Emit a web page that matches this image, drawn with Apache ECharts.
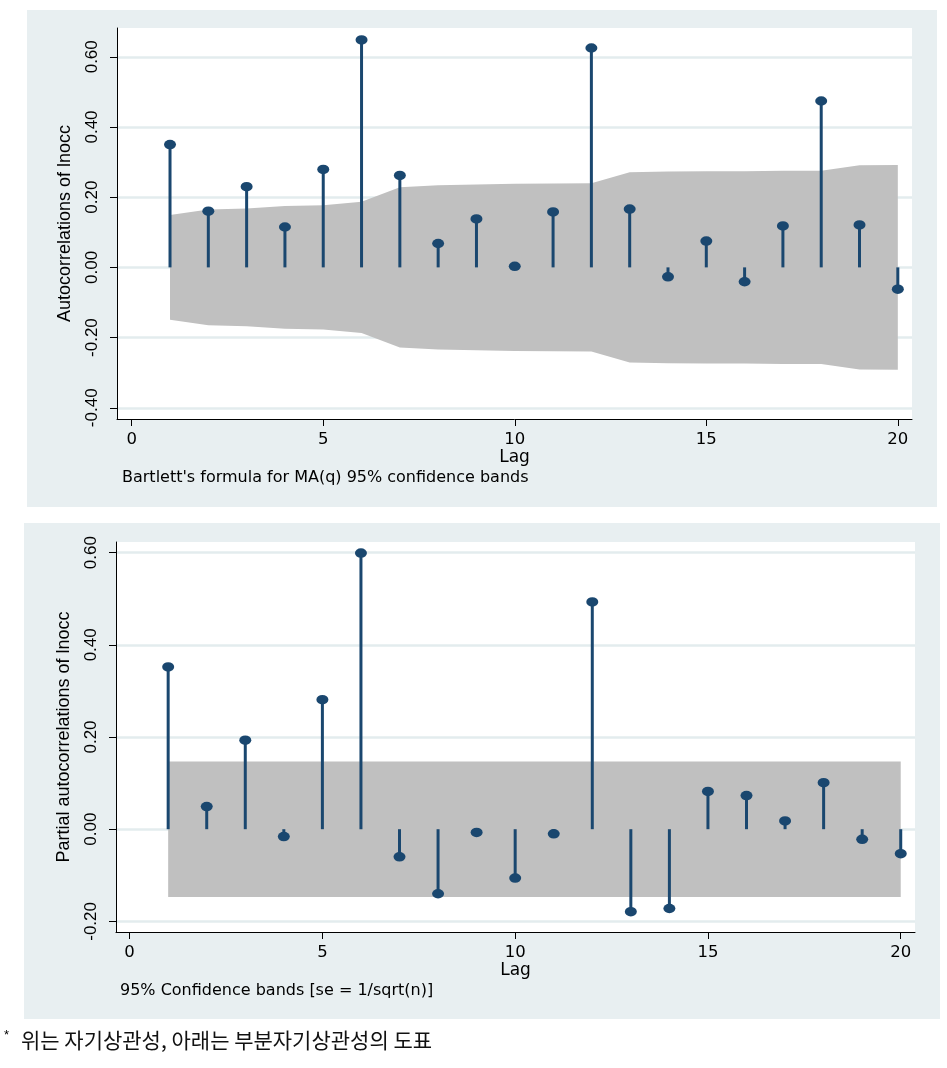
<!DOCTYPE html>
<html>
<head>
<meta charset="utf-8">
<script src="https://cdn.jsdelivr.net/npm/echarts@6/dist/echarts.min.js"></script>
<style>
html,body{margin:0;padding:0;background:#fff;}
#chart{width:947px;height:1068px;}
</style>
</head>
<body>
<div id="chart"></div>
<script>
// ---- data ----
const lags = [1,2,3,4,5,6,7,8,9,10,11,12,13,14,15,16,17,18,19,20];
const acf = [0.350,0.160,0.230,0.115,0.279,0.648,0.262,0.068,0.138,0.003,0.158,0.625,0.166,-0.027,0.075,-0.041,0.118,0.474,0.121,-0.062];
const acfBandUpper = [0.149,0.165,0.168,0.175,0.177,0.187,0.228,0.234,0.236,0.238,0.239,0.240,0.271,0.273,0.274,0.274,0.275,0.275,0.291,0.292];
const pacf = [0.352,0.049,0.193,-0.016,0.281,0.599,-0.060,-0.140,-0.007,-0.106,-0.010,0.493,-0.179,-0.172,0.082,0.073,0.018,0.101,-0.022,-0.053];
const pacfBandHalf = 0.147;
const xTicks = [0,5,10,15,20];
const acfYTicks = [-0.4,-0.2,0,0.2,0.4,0.6];
const pacfYTicks = [-0.2,0,0.2,0.4,0.6];
const acfTitle = 'Autocorrelations of lnocc';
const pacfTitle = 'Partial autocorrelations of lnocc';
const acfNote = "Bartlett's formula for MA(q) 95% confidence bands";
const pacfNote = '95% Confidence bands [se = 1/sqrt(n)]';
const footnote = '위는 자기상관성, 아래는 부분자기상관성의 도표';

const NAVY = '#1a476f';
const BAND = '#c0c0c0';
const PANEL = '#e8eff1';
const GRIDLINE = '#e3ecee';
const FONT = "'Liberation Sans', Arial, sans-serif";
const WFONT = "'DejaVu Sans', 'Liberation Sans', sans-serif";

const acfBandLower = acfBandUpper.map(v => -v);
const pacfBandUpper = lags.map(() => pacfBandHalf);
const pacfBandLower = lags.map(() => -pacfBandHalf);

function bandSeries(idx, upper, lower) {
  return {
    type: 'custom', xAxisIndex: idx, yAxisIndex: idx, z: 1, silent: true,
    data: [[lags[0], upper[0]]],
    renderItem: function (params, api) {
      const up = lags.map((l, i) => api.coord([l, upper[i]]));
      const lo = lags.map((l, i) => api.coord([l, lower[i]])).reverse();
      return { type: 'polygon', shape: { points: up.concat(lo) }, style: { fill: BAND } };
    }
  };
}
function stemSeries(idx, vals) {
  return {
    type: 'bar', xAxisIndex: idx, yAxisIndex: idx, z: 2, barWidth: 3, silent: true,
    itemStyle: { color: NAVY },
    data: lags.map((l, i) => [l, vals[i]])
  };
}
function dotSeries(idx, vals) {
  return {
    type: 'scatter', xAxisIndex: idx, yAxisIndex: idx, z: 3, silent: true,
    symbol: 'circle', symbolSize: [12, 9.5],
    itemStyle: { color: NAVY, opacity: 1 },
    data: lags.map((l, i) => [l, vals[i]])
  };
}
function xAxisOpt(idx, min, max) {
  return {
    type: 'value', gridIndex: idx, min: min, max: max,
    name: 'Lag', nameLocation: 'middle', nameGap: 29,
    nameTextStyle: { fontFamily: WFONT, fontSize: 17, color: '#000' },
    axisLine: { show: true, onZero: false, lineStyle: { color: '#000', width: 1 } },
    axisTick: { show: true, length: 7, customValues: xTicks, lineStyle: { color: '#000' } },
    axisLabel: { customValues: xTicks, margin: 12, fontFamily: WFONT, fontSize: 16.5, color: '#000' },
    splitLine: { show: false }
  };
}
function yAxisOpt(idx, min, max, ticks, title) {
  return {
    type: 'value', gridIndex: idx, min: min, max: max,
    name: title, nameLocation: 'middle', nameGap: 43,
    nameTextStyle: { fontFamily: FONT, fontSize: 18, color: '#000' },
    axisLine: { show: true, onZero: false, lineStyle: { color: '#000', width: 1 } },
    axisTick: { show: true, length: 7, customValues: ticks, lineStyle: { color: '#000' } },
    axisLabel: { customValues: ticks, rotate: 90, margin: 16, fontFamily: FONT, fontSize: 17, color: '#000',
                 formatter: v => Number(v).toFixed(2) },
    splitLine: { show: true, lineStyle: { color: GRIDLINE, width: 2.5 } }
  };
}

const chart = echarts.init(document.getElementById('chart'), null, { renderer: 'canvas' });
chart.setOption({
  animation: false,
  backgroundColor: '#fff',
  graphic: [
    { type: 'rect', z: -100, shape: { x: 27, y: 10, width: 910, height: 497 }, style: { fill: PANEL } },
    { type: 'rect', z: -100, shape: { x: 24, y: 523, width: 916, height: 496 }, style: { fill: PANEL } },
    { type: 'text', z: 10, left: 122, top: 470, style: { text: acfNote, font: '16px ' + WFONT, fill: '#000' } },
    { type: 'text', z: 10, left: 120, top: 983, style: { text: pacfNote, font: '16px ' + WFONT, fill: '#000' } },
    { type: 'text', z: 10, left: 4, top: 1029, style: { text: '*', font: '13px ' + FONT, fill: '#000' } },
    { type: 'text', z: 10, left: 21, top: 1030, style: { text: footnote, font: "21px 'Noto Sans CJK KR', sans-serif", fill: '#111' } }
  ],
  grid: [
    { left: 117, top: 28, width: 795, height: 391, show: true, backgroundColor: '#fff', borderWidth: 0 },
    { left: 116, top: 542, width: 799, height: 390, show: true, backgroundColor: '#fff', borderWidth: 0 }
  ],
  xAxis: [ xAxisOpt(0, -0.384, 20.37), xAxisOpt(1, -0.353, 20.37) ],
  yAxis: [ yAxisOpt(0, -0.432, 0.682, acfYTicks, acfTitle), yAxisOpt(1, -0.223, 0.623, pacfYTicks, pacfTitle) ],
  series: [
    bandSeries(0, acfBandUpper, acfBandLower),
    stemSeries(0, acf),
    dotSeries(0, acf),
    bandSeries(1, pacfBandUpper, pacfBandLower),
    stemSeries(1, pacf),
    dotSeries(1, pacf)
  ]
});
</script>
</body>
</html>
